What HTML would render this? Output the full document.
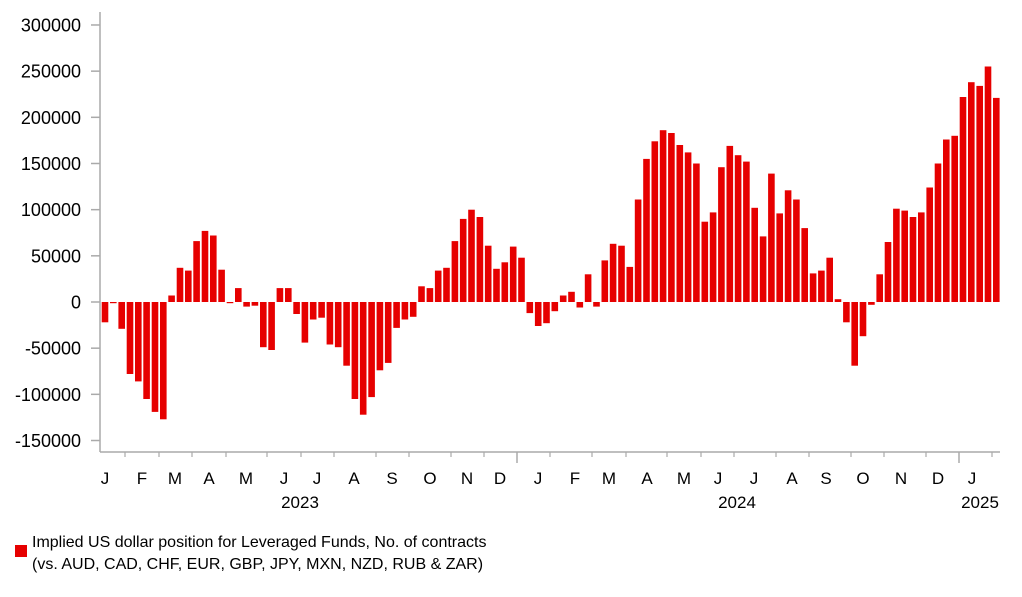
<!DOCTYPE html><html><head><meta charset="utf-8"><style>body{margin:0;background:#fff}svg{display:block;font-family:"Liberation Sans",Arial,sans-serif}</style></head><body>
<svg id="s" width="1022" height="597" xmlns="http://www.w3.org/2000/svg"></svg>
<script>
var v=[-22000,-1000,-29000,-78000,-86000,-105000,-119000,-127000,7000,37000,34000,66000,77000,72000,35000,-1000,15000,-5000,-4000,-49000,-52000,15000,15000,-13000,-44000,-19000,-17000,-46000,-49000,-69000,-105000,-122000,-103000,-74000,-66000,-28000,-19000,
-16000,17000,15000,34000,37000,66000,90000,100000,92000,61000,36000,43000,60000,48000,
-12000,-26000,-23000,-10000,7000,11000,-6000,30000,-5000,45000,63000,61000,38000,111000,155000,174000,186000,183000,170000,162000,150000,
87000,97000,146000,169000,159000,152000,102000,71000,139000,96000,121000,111000,80000,31000,34000,48000,3000,-22000,-69000,-37000,-3000,30000,65000,101000,99000,92000,97000,124000,150000,176000,180000,222000,238000,234000,255000,221000];
var s='',z=302,k=46.17/50000;
for(var i=0;i<v.length;i++){var x=101.7+8.33*i,h=Math.abs(v[i])*k,y=v[i]>=0?z-h:z;if(h<1.2)h=1.2;
s+='<rect x="'+x.toFixed(1)+'" y="'+y.toFixed(1)+'" width="6.6" height="'+h.toFixed(1)+'" fill="#e60000"/>';}
s+='<line x1="100" y1="12" x2="100" y2="452" stroke="#aaa" stroke-width="1.5"/><line x1="100" y1="452" x2="1000" y2="452" stroke="#aaa" stroke-width="1.5"/>';
for(var j=-3;j<=6;j++){var y=z-j*50000*k;s+='<line x1="91" y1="'+y+'" x2="100" y2="'+y+'" stroke="#aaa" stroke-width="1.5"/><text x="81" y="'+(y+6.5)+'" font-size="18" text-anchor="end" fill="#000">'+(j*50000)+'</text>';}
var m=[['J',105],['F',142],['M',175],['A',209],['M',246],['J',284],['J',317],['A',354],['S',392],['O',430],['N',467],['D',500],['J',538],['F',575],['M',609],['A',647],['M',684],['J',718],['J',754],['A',792],['S',826],['O',863],['N',901],['D',938],['J',972]];
m.forEach(function(a){s+='<text x="'+a[1]+'" y="484" font-size="17" text-anchor="middle">'+a[0]+'</text>';});
var t=[125,159,192,226,267,301,334,376,409,451,484,550,592,626,667,701,734,776,809,851,884,926,992];
t.forEach(function(x){s+='<line x1="'+x+'" y1="452" x2="'+x+'" y2="457" stroke="#aaa" stroke-width="1.2"/>';});
[517,959].forEach(function(x){s+='<line x1="'+x+'" y1="452" x2="'+x+'" y2="463" stroke="#aaa" stroke-width="1.5"/>';});
s+='<text x="300" y="508" font-size="17" text-anchor="middle">2023</text><text x="737" y="508" font-size="17" text-anchor="middle">2024</text><text x="980" y="508" font-size="17" text-anchor="middle">2025</text>';
s+='<rect x="15" y="545" width="12" height="12" fill="#e60000"/><text x="32" y="547" font-size="16">Implied US dollar position for Leveraged Funds, No. of contracts</text><text x="32" y="569" font-size="16">(vs. AUD, CAD, CHF, EUR, GBP, JPY, MXN, NZD, RUB &amp; ZAR)</text>';
document.getElementById('s').innerHTML=s;
</script></body></html>
